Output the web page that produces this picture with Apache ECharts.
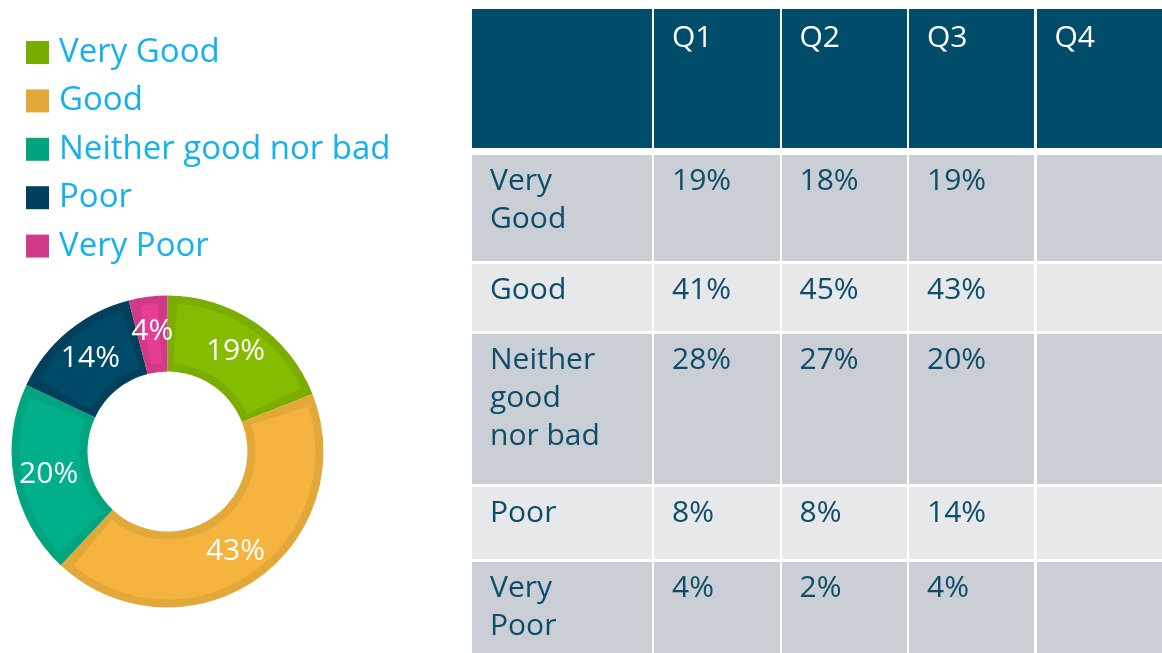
<!DOCTYPE html>
<html>
<head>
<meta charset="utf-8">
<script src="https://cdn.jsdelivr.net/npm/echarts@6/dist/echarts.min.js"></script>
<style>
  html, body { margin: 0; padding: 0; background: #fff; }
  body { width: 1162px; height: 653px; overflow: hidden; position: relative; font-family: 'Open Sans', sans-serif; }
  #donut { position: absolute; left: 0; top: 0; width: 470px; height: 653px; }
  #table { position: absolute; left: 0; top: 0; width: 1162px; height: 653px; }
  .cell { position: absolute; box-sizing: border-box; font-size: 30px; line-height: 38px; color: #0e4c6a; padding: 5px 0 0 18px; overflow: hidden; }
  .head { background: #004d6b; color: #fff; padding-top: 8px; }
  .odd { background: #c9cfd4; }
  .even { background: #e7e8ea; }
</style>
</head>
<body>
<div id="donut"></div>
<div id="table"></div>
<script>
// 类别和数据
const categories = ['Very Good', 'Good', 'Neither good nor bad', 'Poor', 'Very Poor'];
const quarters = ['Q1', 'Q2', 'Q3', 'Q4'];
const q1Values = [19, 41, 28, 8, 4];
const q2Values = [18, 45, 27, 8, 2];
const q3Values = [19, 43, 20, 14, 4];
const q4Values = [];
const pieValues = q3Values; // 饼图用 Q3

const fillColors = ['#86bc00', '#f5b43f', '#00b08a', '#004a69', '#e63e95'];
const edgeColors = ['#7aad00', '#e2a83a', '#00a47e', '#00405c', '#d13a87'];

const FONT = 'Open Sans';

// 表格布局
const colLefts = [472, 654, 781.5, 909, 1036.5];
const colWidths = [179.5, 125.5, 125, 125, 140];
const rowTops = [9, 155, 264, 334, 487, 562];
const rowHeights = [139, 106, 67, 150, 72, 100];

const drawTable = () => {
  const box = document.getElementById('table');
  const cols = [q1Values, q2Values, q3Values, q4Values];
  const addCell = (r, c, text, cls) => {
    const d = document.createElement('div');
    d.className = 'cell ' + cls;
    d.style.left = colLefts[c] + 'px';
    d.style.top = rowTops[r] + 'px';
    d.style.width = colWidths[c] + 'px';
    d.style.height = rowHeights[r] + 'px';
    if (c === 0) d.style.paddingRight = '42px';
    d.textContent = text;
    box.appendChild(d);
  };
  // 表头
  addCell(0, 0, '', 'head');
  quarters.forEach((q, i) => addCell(0, i + 1, q, 'head'));
  // 数据行
  categories.forEach((name, r) => {
    const cls = r % 2 === 0 ? 'odd' : 'even';
    addCell(r + 1, 0, name, cls);
    cols.forEach((vals, c) => {
      const v = vals[r];
      addCell(r + 1, c + 1, v === undefined ? '' : v + '%', cls);
    });
  });
};

// 环形图
const drawDonut = () => {
  const chart = echarts.init(document.getElementById('donut'));
  const option = {
    animation: false,
    legend: {
      orient: 'vertical',
      left: 26,
      top: 36,
      padding: 0,
      icon: 'rect',
      itemWidth: 23,
      itemHeight: 23,
      itemGap: 15.4,
      selectedMode: false,
      data: categories,
      textStyle: {
        color: '#14b1ef',
        fontSize: 33,
        fontFamily: FONT,
        lineHeight: 31,
        padding: [0, 0, 0, 5]
      }
    },
    series: [
      {
        // 外框（深色边）
        type: 'pie',
        center: [167.5, 451.5],
        radius: [80, 156],
        startAngle: 90,
        silent: true,
        label: { show: false },
        labelLine: { show: false },
        data: categories.map((n, i) => ({ name: n, value: pieValues[i], itemStyle: { color: edgeColors[i] } }))
      },
      {
        // 内部填充（浅色）
        type: 'pie',
        center: [167.5, 451.5],
        radius: [88, 148],
        startAngle: 90,
        padAngle: 7.5,
        silent: true,
        avoidLabelOverlap: false,
        label: {
          show: true,
          position: 'inside',
          formatter: '{c}%',
          color: '#fff',
          fontSize: 30,
          fontFamily: FONT
        },
        labelLine: { show: false },
        data: categories.map((n, i) => ({ name: n, value: pieValues[i], itemStyle: { color: fillColors[i] } }))
      }
    ]
  };
  chart.setOption(option);
};

drawTable();
drawDonut();
</script>
</body>
</html>
